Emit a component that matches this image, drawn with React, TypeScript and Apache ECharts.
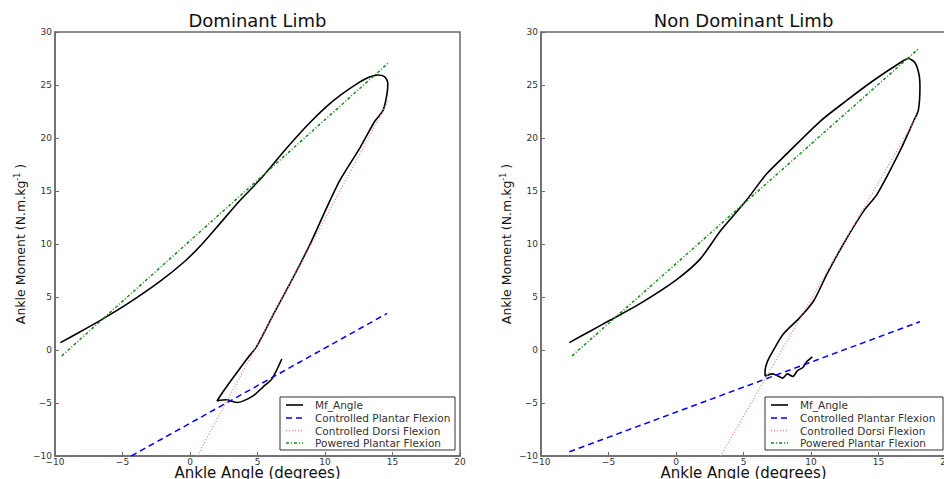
import React, { useEffect, useRef } from "react";
import * as echarts from "echarts";

// ---------- data ----------
const titles = ["Dominant Limb", "Non Dominant Limb"];
const seriesNames = [
  "Mf_Angle",
  "Controlled Plantar Flexion",
  "Controlled Dorsi Flexion",
  "Powered Plantar Flexion",
];
const xTicks = [-10, -5, 0, 5, 10, 15, 20];
const yTicks = [-10, -5, 0, 5, 10, 15, 20, 25, 30];

// Dominant limb: moment-angle loop
const domAngle = [
  -9.6, -8.3, -6.7, -4.7, -2.2, -0.4, 0.9, 2.2, 3.7, 5.2, 7.2, 9.0, 10.6, 12.1,
  13.2, 13.9, 14.4, 14.65, 14.6, 14.3, 13.7, 12.6, 11.1, 9.9, 8.9, 7.65, 6.2,
  4.9, 4.3, 3.2, 2.5, 2.0, 2.7, 3.5, 3.95, 4.7, 5.4, 6.05, 6.4, 6.8,
];
const domMoment = [
  0.7, 1.6, 2.75, 4.3, 6.5, 8.35, 10.0, 11.9, 14.1, 16.1, 19.1, 21.6, 23.5, 24.9,
  25.7, 25.95, 25.8, 25.2, 24.2, 22.6, 21.6, 19.1, 16.0, 12.8, 10.0, 6.85, 3.4,
  0.25, -0.7, -2.6, -3.85, -4.8, -4.7, -4.95, -4.8, -4.3, -3.5, -2.75, -1.95,
  -0.85,
];
const domCPF_x = [-4.35, 14.6];
const domCPF_y = [-10, 3.45];
const domCDF_x = [0.54, 14.7];
const domCDF_y = [-10, 23.5];
const domPPF_x = [-9.5, 14.7];
const domPPF_y = [-0.55, 27.1];

// Non dominant limb: moment-angle loop
const ndAngle = [
  -7.9, -6.4, -4.9, -2.7, 0.0, 1.8, 3.3, 5.2, 6.7, 8.2, 10.7, 12.6, 14.6, 16.6,
  17.2, 17.7, 18.0, 18.07, 17.95, 17.6, 16.6, 14.9, 13.9, 12.4, 11.2, 10.2, 9.2,
  7.95, 7.2, 6.8, 6.6, 6.6, 7.15, 7.55, 7.9, 8.25, 8.65, 9.0, 9.4, 9.65, 10.1,
];
const ndMoment = [
  0.7, 1.75, 2.8, 4.35, 6.6, 8.6, 11.25, 14.1, 16.6, 18.5, 21.6, 23.5, 25.4,
  27.1, 27.5, 27.1, 26.0, 24.8, 22.6, 21.6, 18.8, 14.7, 13.1, 10.0, 7.2, 4.65,
  3.1, 1.5, -0.05, -1.0, -1.95, -2.45, -2.25, -2.45, -2.65, -2.25, -2.5, -1.95,
  -1.65, -1.15, -0.65,
];
const ndCPF_x = [-7.9, 18.07];
const ndCPF_y = [-9.6, 2.67];
const ndCDF_x = [3.3, 17.95];
const ndCDF_y = [-10, 22.3];
const ndPPF_x = [-7.7, 17.95];
const ndPPF_y = [-0.55, 28.4];

const zip = (xs: number[], ys: number[]) => xs.map((x, i) => [x, ys[i]]);

const FONT = "DejaVu Sans";
const FRAME = "#6a6a6a";

const fmt = (v: number) => (v < 0 ? "\u2212" + Math.abs(v) : String(v));

export default function App() {
  const ref = useRef<HTMLDivElement>(null);
  useEffect(() => {
    document.body.style.margin = "0";
    if (!ref.current) return;
    const chart = echarts.init(ref.current, undefined, { renderer: "svg" });

    const gridLefts = [55, 541];
    const gw = 405;
    const gh = 424;
    const gtop = 32;

    const mkX = (i: number) => ({
      gridIndex: i,
      type: "value",
      min: xTicks[0],
      max: xTicks[xTicks.length - 1],
      interval: 5,
      axisLine: { show: true, onZero: false, lineStyle: { color: FRAME, width: 1.5 } },
      axisTick: { show: true, inside: true, length: 4, lineStyle: { color: FRAME } },
      axisLabel: { fontSize: 9, color: "#333", margin: 1, fontFamily: FONT, formatter: fmt },
      splitLine: { show: false },
      name: "Ankle Angle (degrees)",
      nameLocation: "middle",
      nameGap: 9,
      nameMoveOverlap: false,
      nameTextStyle: { fontSize: 15, color: "#111", fontFamily: FONT, verticalAlign: "top" },
    });
    const mkY = (i: number) => ({
      gridIndex: i,
      type: "value",
      min: yTicks[0],
      max: yTicks[yTicks.length - 1],
      interval: 5,
      axisLine: { show: true, onZero: false, lineStyle: { color: FRAME, width: 1.5 } },
      axisTick: { show: true, inside: true, length: 4, lineStyle: { color: FRAME } },
      axisLabel: { fontSize: 9, color: "#333", margin: 3, fontFamily: FONT, formatter: fmt },
      splitLine: { show: false },
      name: "Ankle Moment (N.m.kg{sup|-1} )",
      nameLocation: "middle",
      nameGap: 28,
      nameMoveOverlap: false,
      nameTextStyle: {
        fontSize: 12.5,
        color: "#111",
        fontFamily: FONT,
        rich: {
          sup: { fontSize: 8, fontFamily: FONT, color: "#111", verticalAlign: "top", padding: [0, 0, 6, 0] },
        },
      },
    });

    const styles = [
      { color: "#000000", width: 1.6, type: "solid" as any },
      { color: "#0000ff", width: 1.5, type: [6, 4] as any },
      { color: "#f4866f", width: 1.3, type: [1, 2] as any },
      { color: "#1a8a1a", width: 1.5, type: [3, 2, 1, 2] as any },
    ];

    const dataSets = [
      [zip(domAngle, domMoment), zip(domCPF_x, domCPF_y), zip(domCDF_x, domCDF_y), zip(domPPF_x, domPPF_y)],
      [zip(ndAngle, ndMoment), zip(ndCPF_x, ndCPF_y), zip(ndCDF_x, ndCDF_y), zip(ndPPF_x, ndPPF_y)],
    ];

    const series: any[] = [];
    dataSets.forEach((sets, gi) => {
      sets.forEach((d, si) => {
        series.push({
          type: "line",
          name: seriesNames[si],
          xAxisIndex: gi,
          yAxisIndex: gi,
          data: d,
          showSymbol: false,
          symbol: "none",
          smooth: si === 0 ? 0.25 : false,
          lineStyle: styles[si],
          itemStyle: { color: styles[si].color },
          z: 2 + si,
        });
      });
    });

    // legend drawn as graphic elements
    const legendLefts = [280, 765];
    const legendWidths = [175, 178];
    const rowY = [8, 21, 33.5, 46];
    const graphic: any[] = legendLefts.map((lx, li) => ({
      type: "group",
      x: lx,
      y: 397,
      z: 100,
      children: [
        {
          type: "rect",
          shape: { x: 0, y: 0, width: legendWidths[li], height: 53 },
          style: { fill: "#fff", stroke: "#333", lineWidth: 1 },
        },
        ...seriesNames.flatMap((nm, i) => [
          {
            type: "line",
            shape: { x1: 6, y1: rowY[i], x2: 23, y2: rowY[i] },
            style: {
              stroke: styles[i].color,
              lineWidth: styles[i].width,
              lineDash: Array.isArray(styles[i].type) ? styles[i].type : null,
            },
          },
          {
            type: "text",
            x: 35,
            y: rowY[i],
            style: {
              text: nm,
              fontSize: 10.5,
              fontFamily: FONT,
              fill: "#333",
              verticalAlign: "middle",
              align: "left",
            },
          },
        ]),
      ],
    }));

    chart.setOption({
      animation: false,
      backgroundColor: "#fff",
      textStyle: { fontFamily: FONT },
      title: titles.map((t, i) => ({
        text: t,
        left: gridLefts[i] + gw / 2,
        textAlign: "center",
        top: 11,
        padding: 0,
        textStyle: { fontSize: 18, fontWeight: "normal", color: "#111", fontFamily: FONT },
      })),
      grid: gridLefts.map((l) => ({
        left: l,
        top: gtop,
        width: gw,
        height: gh,
        show: true,
        borderColor: FRAME,
        borderWidth: 1.5,
        backgroundColor: "transparent",
        containLabel: false,
        outerBoundsMode: "none",
      })),
      xAxis: [mkX(0), mkX(1)],
      yAxis: [mkY(0), mkY(1)],
      graphic,
      series,
    });
    return () => chart.dispose();
  }, []);
  return <div ref={ref} style={{ width: 944, height: 479 }} />;
}
